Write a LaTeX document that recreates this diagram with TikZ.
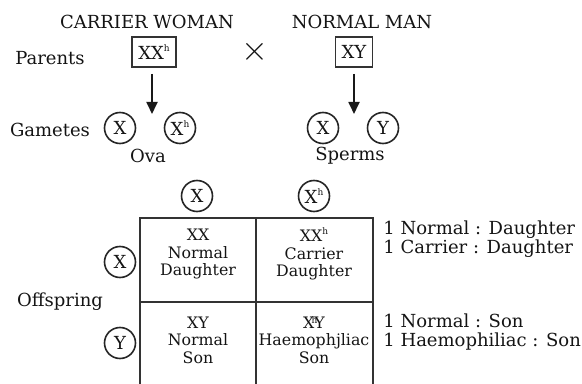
\documentclass[tikz,border=0pt]{standalone}
\usepackage{fontspec}
\setmainfont{DejaVu Serif}
\usetikzlibrary{arrows.meta}
\newcommand{\hsup}{\raisebox{0.85ex}{\fontsize{4.5}{4.5}\selectfont h}}
\newcommand{\hmid}{\makebox[0pt][c]{\raisebox{0.55ex}{\fontsize{4.5}{4.5}\selectfont h}}}
\tikzset{
  lbl/.style={font=\fontsize{9}{10.5}\selectfont, inner sep=0pt, text=black!92},
  gbox/.style={draw=black!80, line width=0.8pt, minimum height=15pt, inner xsep=3pt, inner ysep=0pt, font=\fontsize{9}{10.5}\selectfont, text=black!92},
  gam/.style={draw=black!85, line width=0.8pt, circle, minimum size=15.5pt, inner sep=0.3pt, font=\fontsize{9}{10.5}\selectfont, text=black!92},
  cell/.style={align=center, font=\fontsize{7.9}{8.8}\selectfont, inner sep=0pt, text=black!92},
  ratio/.style={align=left, anchor=west, font=\fontsize{9}{9.6}\selectfont, inner sep=0pt, text=black!92},
  arr/.style={draw=black!90, line width=0.9pt, -{Triangle[width=5.5pt,length=6pt]}},
  grid/.style={draw=black!80, line width=0.8pt}
}
\begin{document}
\begin{tikzpicture}[x=0.5pt,y=-0.5pt]
\useasboundingbox (0,0) rectangle (582,384);
% headings
\node[lbl] (cw) at (147,22) {CARRIER WOMAN};
\node[lbl] (nm) at (362,22) {NORMAL MAN};
\node[lbl] (par) at (50,58) {Parents};
\node[gbox] (boxL) at (154,52) {XX\hsup};
\node[gbox] (boxR) at (354,52) {XY};
\node[lbl, font=\fontsize{16}{16}\selectfont] (times) at (255,52) {$\times$};
% arrows
\coordinate (aL) at (152,114);
\coordinate (aR) at (354,114);
\draw[arr] ([yshift=-3pt]boxL.south -| aL) -- (aL);
\draw[arr] ([yshift=-3pt]boxR.south -| aR) -- (aR);
% gametes
\node[lbl] (gam) at (50,130) {Gametes};
\node[gam] (gXL) at (120,128) {X};
\node[gam] (gXhL) at (180,128) {X\hsup};
\node[gam] (gXR) at (323,128) {X};
\node[gam] (gYR) at (383,128) {Y};
\node[lbl] (ova) at (148,156) {Ova};
\node[lbl] (sp) at (350,156) {Sperms};
% punnett headers
\node[gam] (pX) at (197,196) {X};
\node[gam] (pXh) at (314,196) {X\hsup};
\node[gam] (lX) at (120,262) {X};
\node[gam] (lY) at (120,343) {Y};
\node[lbl] (off) at (60,302) {Offspring};
% grid
\coordinate (g1) at (140,218);
\coordinate (g2) at (256,218);
\coordinate (g3) at (373,218);
\coordinate (h1) at (140,302);
\coordinate (h3) at (373,302);
\coordinate (b1) at (140,384);
\coordinate (b2) at (256,384);
\coordinate (b3) at (373,384);
\draw[grid] (b1) -- (g1) -- (g3) -- (b3);
\draw[grid] (g2) -- (b2);
\draw[grid] (h1) -- (h3);
% cells
\node[cell] (c11) at (198,254) {XX\\Normal\\Daughter};
\node[cell] (c12) at (314,254) {XX\hsup\\Carrier\\Daughter};
\node[cell] (c21) at (198,340) {XY\\Normal\\Son};
\node[cell] (c22) at (314,340) {X\hmid Y\\Haemophjliac\\Son};
% ratios
\node[ratio] (r1) at (383,239) {1 Normal : Daughter\\1 Carrier : Daughter};
\node[ratio] (r2) at (383,332) {1 Normal : Son\\1 Haemophiliac : Son};
\end{tikzpicture}
\end{document}
